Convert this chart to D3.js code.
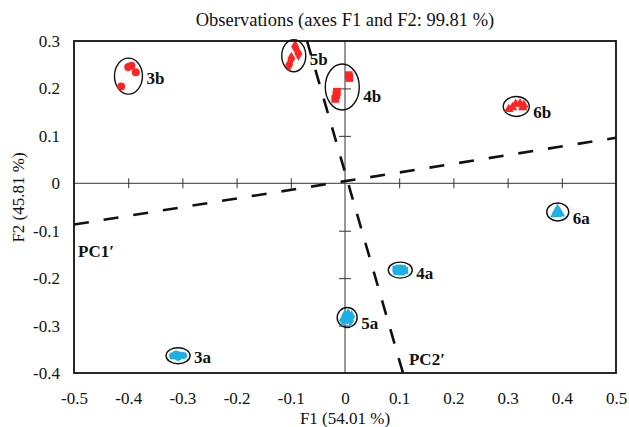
<html>
<head>
<meta charset="utf-8">
<title>Observations (axes F1 and F2)</title>
<style>
body { margin: 0; background: #fff; }
text { font-family: "Liberation Serif", "Times New Roman", serif; fill: #111; }
.lbl { font-weight: bold; font-size: 17px; }
.tick-lab { font-size: 17px; }
</style>
</head>
<body>
<script src="https://d3js.org/d3.v7.min.js"></script>
<script>
// observations (F1, F2)
var obs3b = [[-0.400, 0.245], [-0.394, 0.248], [-0.386, 0.234], [-0.413, 0.204]];
var obs5b = [[-0.092, 0.288], [-0.086, 0.273], [-0.099, 0.263], [-0.103, 0.250]];
var obs4b = [[0.007, 0.228], [0.008, 0.222], [-0.015, 0.193], [-0.016, 0.186], [-0.018, 0.178]];
var obs6b = [[0.302, 0.156], [0.309, 0.160], [0.315, 0.167], [0.323, 0.168], [0.330, 0.165], [0.328, 0.160]];
var obs3a = [[-0.318, -0.364], [-0.312, -0.360], [-0.305, -0.362], [-0.298, -0.363], [-0.308, -0.367]];
var obs4a = [[0.094, -0.181], [0.100, -0.179], [0.106, -0.180], [0.110, -0.184], [0.096, -0.186], [0.104, -0.187]];
var obs5a = [[0.000, -0.279], [0.006, -0.276], [0.012, -0.281], [0.004, -0.286], [-0.004, -0.289], [0.010, -0.290]];
var obs6a = [[0.392, -0.057], [0.396, -0.063], [0.389, -0.064]];

var groupNames = ["3b", "5b", "4b", "6b", "3a", "4a", "5a", "6a"];
var groupData  = [obs3b, obs5b, obs4b, obs6b, obs3a, obs4a, obs5a, obs6a];

var xTicks = [-0.5, -0.4, -0.3, -0.2, -0.1, 0, 0.1, 0.2, 0.3, 0.4, 0.5];
var yTicks = [-0.4, -0.3, -0.2, -0.1, 0, 0.1, 0.2, 0.3];

// rotated axes (dashed), end points in F1/F2 units
var pc1 = [[-0.5, -0.087], [0.5, 0.096]];
var pc2 = [[-0.070, 0.3], [0.107, -0.4]];

var title  = "Observations (axes F1 and F2: 99.81 %)";
var xTitle = "F1 (54.01 %)";
var yTitle = "F2 (45.81 %)";

// styles per group: symbol, colour, ellipse radii (px), label dy (px)
var red = "#ff2424", blue = "#1cb0e4";
var style = {
    "3b": {sym: d3.symbolCircle,   size: 50, col: red,  rx: 14, ry: 18, dy: 2},
    "5b": {sym: d3.symbolDiamond,  size: 55, col: red,  rx: 12, ry: 16, dy: 3},
    "4b": {sym: d3.symbolSquare,   size: 60, col: red,  rx: 17, ry: 23, dy: 9},
    "6b": {sym: d3.symbolTriangle, size: 40, col: red,  rx: 13, ry: 10, dy: 6},
    "3a": {sym: d3.symbolCircle,   size: 40, col: blue, rx: 12, ry: 8,  dy: 1},
    "4a": {sym: d3.symbolSquare,   size: 50, col: blue, rx: 12, ry: 8,  dy: 3},
    "5a": {sym: d3.symbolDiamond,  size: 45, col: blue, rx: 10, ry: 10, dy: 6},
    "6a": {sym: d3.symbolTriangle, size: 55, col: blue, rx: 11, ry: 9,  dy: 6}
};

var W = 629, H = 427;
var margin = {top: 41, right: 13, bottom: 54, left: 74};

var svg = d3.select("body").append("svg")
    .attr("width", W)
    .attr("height", H);

var x = d3.scaleLinear().domain([-0.5, 0.5]).range([margin.left, W - margin.right]);
var y = d3.scaleLinear().domain([-0.4, 0.3]).range([H - margin.bottom, margin.top]);

var fmt = function(d){ return d === 0 ? "0" : d.toFixed(1); };

// zero axes with crossing ticks
var gx0 = svg.append("g")
    .attr("transform", "translate(0," + y(0) + ")")
    .call(d3.axisBottom(x).tickValues(xTicks.filter(function(d){ return d !== 0 && Math.abs(d) < 0.5; }))
        .tickSize(5).tickFormat(""));
gx0.select(".domain").attr("d", "M" + x(-0.5) + ",0H" + x(0.5));
gx0.selectAll(".tick line").attr("y1", -5).attr("y2", 5);

var gy0 = svg.append("g")
    .attr("transform", "translate(" + x(0) + ",0)")
    .call(d3.axisLeft(y).tickValues(yTicks.filter(function(d){ return d !== 0 && d > -0.4 && d < 0.3; }))
        .tickSize(6).tickFormat(""));
gy0.select(".domain").attr("d", "M0," + y(0.3) + "V" + y(-0.4));
gy0.selectAll(".tick line").attr("x1", -6).attr("x2", 6);

svg.selectAll(".domain, .tick line").attr("stroke", "#333").attr("stroke-width", 1);

// outer tick labels
var gxl = svg.append("g")
    .attr("transform", "translate(0," + y(-0.4) + ")")
    .call(d3.axisBottom(x).tickValues(xTicks).tickSize(0).tickPadding(19).tickFormat(fmt));
gxl.select(".domain").remove();
gxl.selectAll("text").attr("class", "tick-lab").attr("font-family", null).attr("font-size", null);

var gyl = svg.append("g")
    .attr("transform", "translate(" + x(-0.5) + ",0)")
    .call(d3.axisLeft(y).tickValues(yTicks).tickSize(0).tickPadding(14).tickFormat(fmt));
gyl.select(".domain").remove();
gyl.selectAll("text").attr("class", "tick-lab").attr("font-family", null).attr("font-size", null);

// dashed rotated axes
var line = d3.line().x(function(d){ return x(d[0]); }).y(function(d){ return y(d[1]); });
[pc1, pc2].forEach(function(p){
    svg.append("path")
        .attr("d", line(p))
        .attr("fill", "none")
        .attr("stroke", "#111")
        .attr("stroke-width", 2.6)
        .attr("stroke-dasharray", "15,15");
});

// groups: ellipses, points, labels
groupNames.forEach(function(name, i){
    var pts = groupData[i], s = style[name];
    var ex = d3.extent(pts, function(d){ return x(d[0]); });
    var ey = d3.extent(pts, function(d){ return y(d[1]); });
    var cx = (ex[0] + ex[1]) / 2, cy = (ey[0] + ey[1]) / 2;

    svg.append("ellipse")
        .attr("cx", cx).attr("cy", cy)
        .attr("rx", s.rx).attr("ry", s.ry)
        .attr("fill", "none")
        .attr("stroke", "#111")
        .attr("stroke-width", 1.4);

    svg.selectAll(".pt" + name)
        .data(pts)
        .enter().append("path")
        .attr("transform", function(d){ return "translate(" + x(d[0]) + "," + y(d[1]) + ")"; })
        .attr("d", d3.symbol().type(s.sym).size(s.size))
        .attr("fill", s.col);

    svg.append("text")
        .attr("class", "lbl")
        .attr("x", cx + s.rx + 4)
        .attr("y", cy + s.dy)
        .attr("dy", "0.35em")
        .text(name);
});

// frame
svg.append("rect")
    .attr("x", x(-0.5)).attr("y", y(0.3))
    .attr("width", x(0.5) - x(-0.5))
    .attr("height", y(-0.4) - y(0.3))
    .attr("fill", "none")
    .attr("stroke", "#111")
    .attr("stroke-width", 1.8);

// PC labels
svg.append("text").attr("class", "lbl")
    .attr("x", x(pc1[0][0]) + 4).attr("y", y(pc1[0][1]) + 32)
    .text("PC1\u2032");
svg.append("text").attr("class", "lbl")
    .attr("x", x(pc2[1][0]) + 6).attr("y", y(pc2[1][1]) - 8)
    .text("PC2\u2032");

// titles
svg.append("text")
    .attr("x", (x(-0.5) + x(0.5)) / 2).attr("y", 26)
    .attr("text-anchor", "middle")
    .style("font-size", "18.5px")
    .text(title);

svg.append("text")
    .attr("x", x(0)).attr("y", 424)
    .attr("text-anchor", "middle")
    .style("font-size", "17px")
    .text(xTitle);

svg.append("text")
    .attr("transform", "translate(24," + y(-0.03) + ") rotate(-90)")
    .attr("text-anchor", "middle")
    .style("font-size", "17px")
    .text(yTitle);
</script>
</body>
</html>
